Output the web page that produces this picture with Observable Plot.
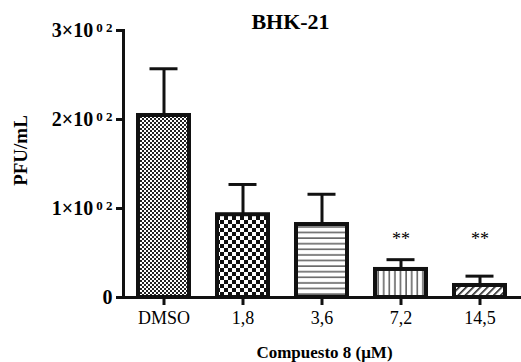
<!DOCTYPE html>
<html>
<head>
<meta charset="utf-8">
<script src="https://cdn.jsdelivr.net/npm/d3@7"></script>
<script src="https://cdn.jsdelivr.net/npm/@observablehq/plot@0.6"></script>
<style>
  html, body { margin: 0; padding: 0; background: #fff; }
  #chart svg { display: block; }
  #chart svg, #chart svg text { font-family: "Liberation Serif", "Times New Roman", serif !important; }
</style>
</head>
<body>
<div id="chart"></div>
<script>
const categories = ["DMSO", "1,8", "3,6", "7,2", "14,5"];
const means = [204.5, 93, 82, 31.5, 13.5];
const errors = [52.5, 34, 34, 11, 10.5];
const signif = ["", "", "", "**", "**"];
const yTicks = [0, 100, 200, 300];
const yTickMantissa = ["0", "1×10", "2×10", "3×10"];
const yTickExponent = ["", "0 2", "0 2", "0 2"];
const patterns = ["p-fine", "p-check", "p-hlines", "p-vlines", "p-diag"];
const sigLevel = 65;
const title = "BHK-21";
const yLabel = "PFU/mL";
const xLabel = "Compuesto 8 (μM)";

const data = categories.map((c, i) => ({cat: c, value: means[i], err: errors[i], sig: signif[i]}));

const plot = Plot.plot({
  width: 521,
  height: 362,
  marginLeft: 123,
  marginRight: 0,
  marginTop: 30,
  marginBottom: 65,
  style: {color: "#000", background: "#fff"},
  x: {domain: categories, paddingInner: 0.35, paddingOuter: 0.175, axis: null},
  y: {domain: [0, 300], axis: null},
  color: {type: "ordinal", domain: categories, range: patterns.map(p => `url(#${p})`)},
  marks: [
    Plot.barY(data, {x: "cat", y: "value", fill: "cat", stroke: "#111", strokeWidth: 4}),
    Plot.ruleX(data, {x: "cat", y1: "value", y2: d => d.value + d.err, stroke: "#111", strokeWidth: 3}),
    Plot.tickY(data, {x: "cat", y: d => d.value + d.err, stroke: "#111", strokeWidth: 3, insetLeft: 11.5, insetRight: 11.5}),
    Plot.ruleY([0], {stroke: "#111", strokeWidth: 3}),
    Plot.frame({anchor: "left", stroke: "#111", strokeWidth: 3}),
    Plot.axisY({ticks: yTicks, tickSize: 7, tickPadding: 4, strokeWidth: 3, stroke: "#111",
      tickFormat: d => yTickMantissa[yTicks.indexOf(d)] + "|" + yTickExponent[yTicks.indexOf(d)],
      fontSize: 20, fontWeight: "bold", label: null}),
    Plot.axisX({tickSize: 8, tickPadding: 6, strokeWidth: 3, stroke: "#111", fontSize: 18, label: null}),
    Plot.text(data.filter(d => d.sig), {x: "cat", y: () => sigLevel, text: "sig", fontSize: 18, lineAnchor: "middle"}),
    Plot.text([title], {frameAnchor: "top", dx: -32, dy: -2, lineAnchor: "bottom", fontSize: 22, fontWeight: "bold"}),
    Plot.text([yLabel], {frameAnchor: "left", dx: -103, dy: -13.5, rotate: -90, textAnchor: "middle", lineAnchor: "middle", fontSize: 19, fontWeight: "bold"}),
    Plot.text([xLabel], {frameAnchor: "bottom", dx: 2, dy: 60, lineAnchor: "bottom", fontSize: 17, fontWeight: "bold", letterSpacing: "1.4px"})
  ]
});

const svg = d3.select(plot);
const defs = svg.insert("defs", ":first-child");
let p = defs.append("pattern").attr("id", "p-fine").attr("patternUnits", "userSpaceOnUse").attr("width", 4).attr("height", 4);
p.append("rect").attr("width", 4).attr("height", 4).attr("fill", "#fff");
p.append("rect").attr("x", 0).attr("y", 0).attr("width", 2).attr("height", 2).attr("fill", "#222");
p.append("rect").attr("x", 2).attr("y", 2).attr("width", 2).attr("height", 2).attr("fill", "#222");
p = defs.append("pattern").attr("id", "p-check").attr("patternUnits", "userSpaceOnUse").attr("width", 8).attr("height", 8);
p.append("rect").attr("width", 8).attr("height", 8).attr("fill", "#fff");
p.append("rect").attr("x", 0).attr("y", 0).attr("width", 4).attr("height", 4).attr("fill", "#111");
p.append("rect").attr("x", 4).attr("y", 4).attr("width", 4).attr("height", 4).attr("fill", "#111");
p = defs.append("pattern").attr("id", "p-hlines").attr("patternUnits", "userSpaceOnUse").attr("width", 8).attr("height", 5.6);
p.append("rect").attr("width", 8).attr("height", 5.6).attr("fill", "#fff");
p.append("rect").attr("x", 0).attr("y", 2.3).attr("width", 8).attr("height", 1.2).attr("fill", "#333");
p = defs.append("pattern").attr("id", "p-vlines").attr("patternUnits", "userSpaceOnUse").attr("width", 5.6).attr("height", 8);
p.append("rect").attr("width", 5.6).attr("height", 8).attr("fill", "#fff");
p.append("rect").attr("x", 2.3).attr("y", 0).attr("width", 1.2).attr("height", 8).attr("fill", "#333");
p = defs.append("pattern").attr("id", "p-diag").attr("patternUnits", "userSpaceOnUse").attr("width", 5).attr("height", 5).attr("patternTransform", "rotate(45)");
p.append("rect").attr("width", 5).attr("height", 5).attr("fill", "#fff");
p.append("rect").attr("x", 2).attr("y", 0).attr("width", 1.6).attr("height", 5).attr("fill", "#222");

svg.selectAll('g[aria-label="y-axis tick label"] text').each(function() {
  const t = d3.select(this);
  const [m, e] = t.text().split("|");
  t.text(m);
  if (e) {
    t.append("tspan").attr("dy", "-0.4em").attr("font-size", 13).attr("dx", 3).text(e);
  }
});

document.getElementById("chart").appendChild(plot);
</script>
</body>
</html>
